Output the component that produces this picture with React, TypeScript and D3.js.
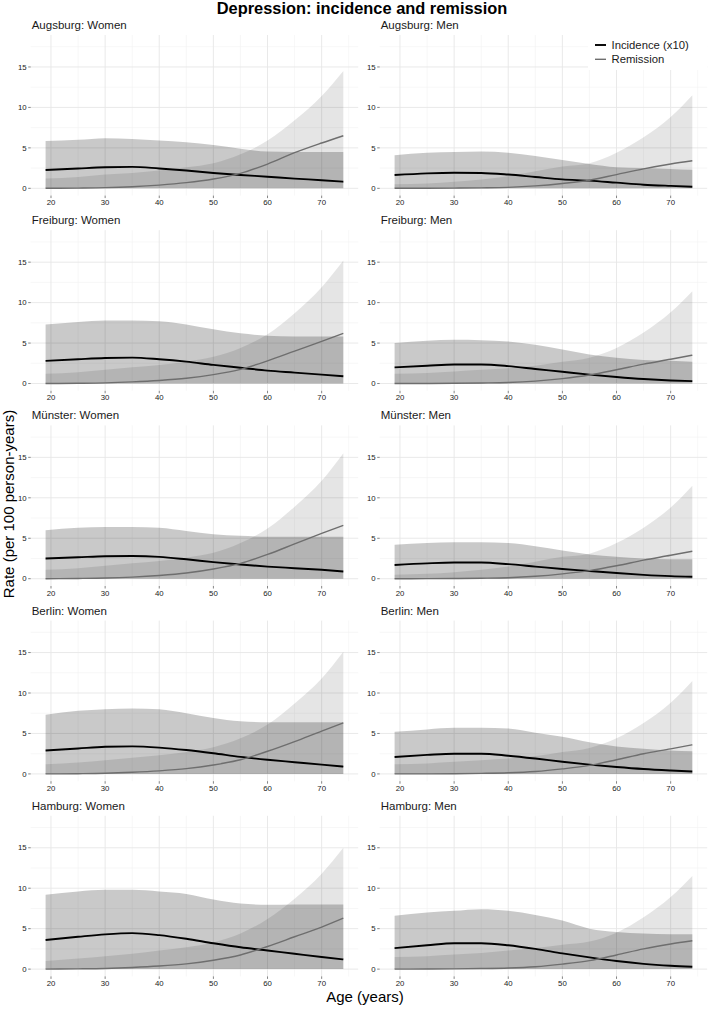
import * as d3 from 'd3';
import React from 'react';

const ages = [19, 25, 30, 35, 40, 45, 50, 55, 60, 65, 70, 74];

const cities = ['Augsburg', 'Freiburg', 'Münster', 'Berlin', 'Hamburg'];
const sexes = ['Women', 'Men'];

// incidence (x10): estimate and upper CI, per panel (city x sex)
const incidence: number[][] = [
  [2.26, 2.45, 2.6, 2.65, 2.45, 2.2, 1.9, 1.65, 1.43, 1.2, 1.0, 0.82],
  [1.64, 1.85, 1.93, 1.9, 1.7, 1.4, 1.1, 0.95, 0.7, 0.45, 0.3, 0.2],
  [2.8, 3.0, 3.15, 3.2, 3.0, 2.7, 2.3, 1.95, 1.6, 1.35, 1.1, 0.9],
  [2.0, 2.2, 2.35, 2.35, 2.15, 1.8, 1.45, 1.1, 0.8, 0.55, 0.38, 0.3],
  [2.5, 2.65, 2.78, 2.8, 2.7, 2.4, 2.05, 1.75, 1.5, 1.3, 1.1, 0.9],
  [1.7, 1.9, 2.0, 2.0, 1.8, 1.5, 1.2, 0.95, 0.7, 0.48, 0.32, 0.25],
  [2.9, 3.15, 3.35, 3.4, 3.25, 2.95, 2.55, 2.1, 1.75, 1.45, 1.15, 0.9],
  [2.1, 2.35, 2.5, 2.5, 2.25, 1.9, 1.5, 1.15, 0.85, 0.6, 0.42, 0.3],
  [3.6, 4.0, 4.3, 4.45, 4.2, 3.75, 3.2, 2.7, 2.3, 1.9, 1.5, 1.2],
  [2.6, 2.95, 3.2, 3.2, 2.95, 2.5, 1.95, 1.45, 1.0, 0.65, 0.42, 0.3],
];
const incidenceHigh: number[][] = [
  [5.85, 6.0, 6.2, 6.1, 5.9, 5.7, 5.35, 4.9, 4.55, 4.5, 4.5, 4.5],
  [4.1, 4.4, 4.5, 4.55, 4.4, 4.0, 3.5, 3.0, 2.6, 2.5, 2.4, 2.3],
  [7.3, 7.6, 7.8, 7.8, 7.7, 7.3, 6.7, 6.2, 5.9, 5.8, 5.8, 5.8],
  [5.0, 5.3, 5.4, 5.35, 5.2, 4.8, 4.2, 3.6, 3.2, 2.9, 2.8, 2.7],
  [6.0, 6.3, 6.4, 6.4, 6.3, 5.9, 5.5, 5.3, 5.2, 5.2, 5.2, 5.2],
  [4.2, 4.4, 4.5, 4.5, 4.4, 4.0, 3.5, 3.0, 2.7, 2.5, 2.4, 2.4],
  [7.3, 7.8, 8.0, 8.1, 8.0, 7.5, 6.9, 6.5, 6.4, 6.4, 6.4, 6.4],
  [5.2, 5.5, 5.7, 5.7, 5.6, 5.1, 4.6, 3.9, 3.4, 3.1, 2.9, 2.8],
  [9.2, 9.6, 9.8, 9.8, 9.6, 9.3, 8.6, 8.1, 7.95, 8.0, 8.0, 8.0],
  [6.6, 7.0, 7.2, 7.4, 7.2, 6.7, 6.0, 5.0, 4.6, 4.4, 4.3, 4.3],
];

// remission: estimate and upper CI
const remission: number[][] = [
  [0, 0.03, 0.08, 0.2, 0.4, 0.7, 1.15, 1.85, 3.0, 4.4, 5.6, 6.5],
  [0, 0.01, 0.03, 0.06, 0.12, 0.3, 0.6, 1.0, 1.7, 2.4, 3.0, 3.4],
  [0, 0.03, 0.08, 0.2, 0.38, 0.65, 1.1, 1.75, 2.8, 4.0, 5.2, 6.2],
  [0, 0.01, 0.03, 0.07, 0.13, 0.3, 0.6, 1.05, 1.7, 2.4, 3.0, 3.5],
  [0, 0.03, 0.08, 0.2, 0.4, 0.7, 1.2, 1.9, 3.0, 4.3, 5.6, 6.6],
  [0, 0.01, 0.03, 0.06, 0.12, 0.3, 0.6, 1.0, 1.6, 2.3, 2.9, 3.4],
  [0, 0.03, 0.08, 0.2, 0.38, 0.65, 1.1, 1.75, 2.8, 4.0, 5.3, 6.3],
  [0, 0.01, 0.03, 0.07, 0.14, 0.3, 0.62, 1.05, 1.75, 2.5, 3.1, 3.6],
  [0, 0.03, 0.08, 0.2, 0.38, 0.65, 1.1, 1.75, 2.8, 4.0, 5.2, 6.3],
  [0, 0.01, 0.03, 0.07, 0.14, 0.3, 0.62, 1.05, 1.75, 2.5, 3.1, 3.5],
];
const remissionHigh: number[][] = [
  [1.2, 1.4, 1.7, 1.9, 2.2, 2.6, 3.1, 4.2, 5.9, 8.4, 11.4, 14.5],
  [0.5, 0.6, 0.8, 1.1, 1.5, 2.1, 2.7, 3.1, 4.4, 6.3, 8.8, 11.5],
  [1.2, 1.4, 1.7, 2.0, 2.3, 2.7, 3.3, 4.4, 6.1, 8.7, 11.9, 15.2],
  [1.2, 1.3, 1.5, 1.7, 1.9, 2.2, 2.7, 3.2, 4.4, 6.3, 8.8, 11.4],
  [1.1, 1.3, 1.6, 1.9, 2.2, 2.6, 3.2, 4.4, 6.2, 8.9, 12.1, 15.5],
  [0.5, 0.6, 0.8, 1.1, 1.5, 2.1, 2.7, 3.1, 4.4, 6.3, 8.8, 11.5],
  [1.2, 1.4, 1.7, 2.0, 2.3, 2.7, 3.3, 4.4, 6.1, 8.7, 11.8, 15.1],
  [1.2, 1.3, 1.5, 1.7, 1.9, 2.2, 2.7, 3.2, 4.4, 6.3, 8.8, 11.5],
  [1.0, 1.3, 1.6, 1.9, 2.3, 2.7, 3.3, 4.4, 6.2, 8.7, 11.8, 15.0],
  [1.5, 1.6, 1.8, 2.0, 2.3, 2.6, 3.0, 3.4, 4.5, 6.4, 8.9, 11.5],
];

const xTicks = [20, 30, 40, 50, 60, 70];
const xMinor = [25, 35, 45, 55, 65, 75];
const yTicks = [0, 5, 10, 15];
const yMinor = [2.5, 7.5, 12.5, 17.5];

const W = 708;
const H = 1009;
const font = "'Liberation Sans', Arial, Helvetica, sans-serif";

const colLeft = [30.7, 379.7];
const panelW = 327.5;
const panelTop0 = 35;
const rowPitch = 195.2;
const panelH = 160.6;

const Panel: React.FC<{ idx: number; row: number; col: number }> = ({ idx, row, col }) => {
  const left = colLeft[col];
  const top = panelTop0 + row * rowPitch;
  const x = d3.scaleLinear().domain([16.25, 76.75]).range([left, left + panelW]);
  const y = d3.scaleLinear().domain([-0.9, 18.95]).range([top + panelH, top]);

  const band = (hi: number[]) =>
    d3
      .area<number>()
      .x((_, i) => x(ages[i]))
      .y0(() => y(0))
      .y1((d) => y(d))
      .curve(d3.curveMonotoneX)(hi) || '';
  const line = (vals: number[]) =>
    d3
      .line<number>()
      .x((_, i) => x(ages[i]))
      .y((d) => y(d))
      .curve(d3.curveMonotoneX)(vals) || '';

  const [x0, x1] = x.range();
  const [y0, y1] = y.range();

  return (
    <g>
      {/* grid */}
      {xMinor.map((t) => (
        <line key={'xm' + t} x1={x(t)} x2={x(t)} y1={y1} y2={y0} stroke="#f2f2f2" strokeWidth={0.6} />
      ))}
      {yMinor.map((t) => (
        <line key={'ym' + t} x1={x0} x2={x1} y1={y(t)} y2={y(t)} stroke="#f2f2f2" strokeWidth={0.6} />
      ))}
      {xTicks.map((t) => (
        <line key={'xg' + t} x1={x(t)} x2={x(t)} y1={y1} y2={y0} stroke="#e6e6e6" strokeWidth={0.9} />
      ))}
      {yTicks.map((t) => (
        <line key={'yg' + t} x1={x0} x2={x1} y1={y(t)} y2={y(t)} stroke="#e6e6e6" strokeWidth={0.9} />
      ))}

      {/* ribbons */}
      <path d={band(incidenceHigh[idx])} fill="#000" fillOpacity={0.21} />
      <path d={band(remissionHigh[idx])} fill="#000" fillOpacity={0.1} />

      {/* lines */}
      <path d={line(incidence[idx])} fill="none" stroke="#000" strokeWidth={1.9} />
      <path d={line(remission[idx])} fill="none" stroke="#6e6e6e" strokeWidth={1.4} />

      {/* axes */}
      {yTicks.map((t) => (
        <g key={'yt' + t}>
          <line x1={x0 - 2.5} x2={x0} y1={y(t)} y2={y(t)} stroke="#333" strokeWidth={0.6} />
          <text x={x0 - 4} y={y(t)} dy="0.35em" textAnchor="end" fontSize={7.8} fill="#222" fontFamily={font}>
            {t}
          </text>
        </g>
      ))}
      {xTicks.map((t) => (
        <g key={'xt' + t}>
          <line x1={x(t)} x2={x(t)} y1={y0} y2={y0 + 2.5} stroke="#333" strokeWidth={0.6} />
          <text x={x(t)} y={y0 + 9.5} textAnchor="middle" fontSize={7.8} fill="#222" fontFamily={font}>
            {t}
          </text>
        </g>
      ))}

      {/* strip */}
      <text x={x0 + 1} y={top - 6} fontSize={11.5} fill="#1a1a1a" fontFamily={font}>
        {`${cities[row]}: ${sexes[col]}`}
      </text>
    </g>
  );
};

const App: React.FC = () => {
  const panels: { idx: number; row: number; col: number }[] = [];
  cities.forEach((_, r) => sexes.forEach((_, c) => panels.push({ idx: r * 2 + c, row: r, col: c })));

  return (
    <svg width={W} height={H} style={{ position: 'absolute', left: 0, top: 0, background: '#fff' }}>
      <rect width={W} height={H} fill="#fff" />
      {panels.map((p) => (
        <Panel key={p.idx} {...p} />
      ))}

      {/* legend */}
      <rect x={588} y={35} width={119} height={35} fill="#fff" />
      <line x1={595} x2={606} y1={45} y2={45} stroke="#000" strokeWidth={1.9} />
      <line x1={595} x2={606} y1={59.3} y2={59.3} stroke="#6e6e6e" strokeWidth={1.4} />
      <text x={611.5} y={45} dy="0.35em" fontSize={11.3} fontFamily={font} fill="#1a1a1a">
        Incidence (x10)
      </text>
      <text x={611.5} y={59.3} dy="0.35em" fontSize={11.3} fontFamily={font} fill="#1a1a1a">
        Remission
      </text>

      {/* titles */}
      <text x={362} y={14} textAnchor="middle" fontSize={16.4} fontWeight="bold" fontFamily={font}>
        Depression: incidence and remission
      </text>
      <text x={365} y={1002} textAnchor="middle" fontSize={15} fontFamily={font}>
        Age (years)
      </text>
      <text
        transform="translate(14,504) rotate(-90)"
        textAnchor="middle"
        fontSize={15}
        fontFamily={font}
      >
        Rate (per 100 person-years)
      </text>
    </svg>
  );
};

export default App;
